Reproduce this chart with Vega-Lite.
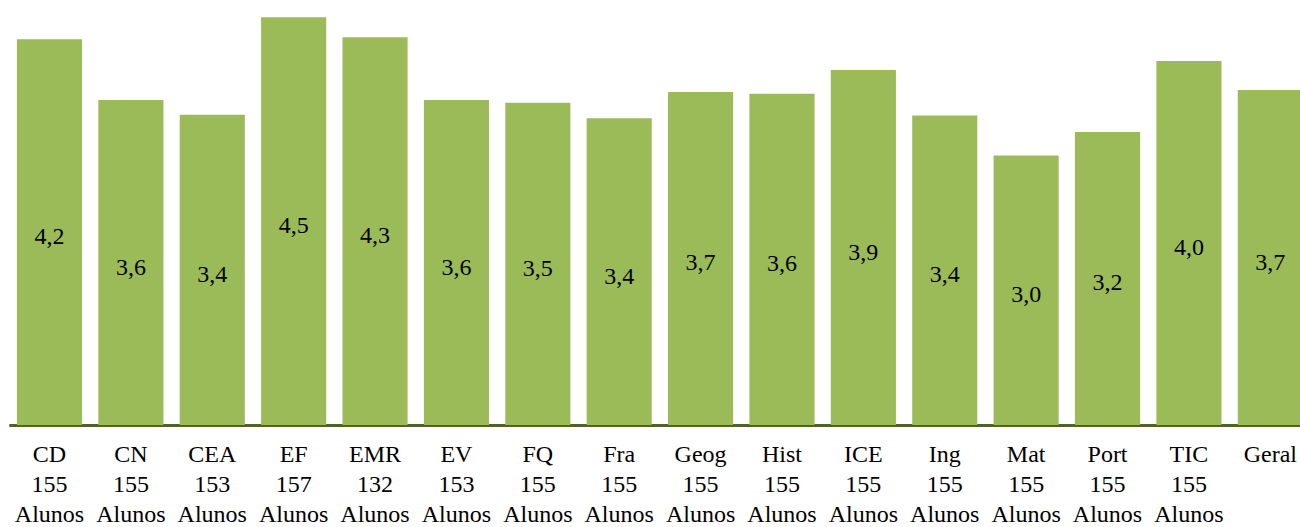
{
  "$schema": "https://vega.github.io/schema/vega-lite/v6.json",
  "width": 1300,
  "height": 425,
  "padding": {"left": 0, "right": 0, "top": 0, "bottom": 102},
  "autosize": {"type": "none"},
  "background": "white",
  "config": {
    "view": {"stroke": null},
    "locale": {"number": {"decimal": ",", "thousands": ".", "grouping": [3], "currency": ["", " €"]}}
  },
  "data": {
    "values": [
      {"disciplina": "CD", "alunos": 155, "media": 4.24},
      {"disciplina": "CN", "alunos": 155, "media": 3.57},
      {"disciplina": "CEA", "alunos": 153, "media": 3.41},
      {"disciplina": "EF", "alunos": 157, "media": 4.48},
      {"disciplina": "EMR", "alunos": 132, "media": 4.26},
      {"disciplina": "EV", "alunos": 153, "media": 3.57},
      {"disciplina": "FQ", "alunos": 155, "media": 3.54},
      {"disciplina": "Fra", "alunos": 155, "media": 3.37},
      {"disciplina": "Geog", "alunos": 155, "media": 3.66},
      {"disciplina": "Hist", "alunos": 155, "media": 3.64},
      {"disciplina": "ICE", "alunos": 155, "media": 3.9},
      {"disciplina": "Ing", "alunos": 155, "media": 3.4},
      {"disciplina": "Mat", "alunos": 155, "media": 2.96},
      {"disciplina": "Port", "alunos": 155, "media": 3.22},
      {"disciplina": "TIC", "alunos": 155, "media": 4.0},
      {"disciplina": "Geral", "alunos": null, "media": 3.68}
    ]
  },
  "transform": [
    {"calculate": "isValid(datum.alunos) ? datum.disciplina + '|' + datum.alunos + '|Alunos' : datum.disciplina", "as": "rotulo"}
  ],
  "encoding": {
    "x": {
      "field": "rotulo",
      "type": "nominal",
      "sort": null,
      "scale": {"range": [8.8, 1311], "paddingInner": 0.2, "paddingOuter": 0.1},
      "axis": {
        "title": null,
        "labelAngle": 0,
        "labelExpr": "split(datum.label, '|')",
        "labelFont": "Liberation Serif",
        "labelFontSize": 24,
        "labelColor": "#000000",
        "labelLineHeight": 30,
        "labelBaseline": "top",
        "labelPadding": 17,
        "labelOverlap": false,
        "labelLimit": 0,
        "ticks": false,
        "domainColor": "#4F6228",
        "domainWidth": 3,
        "grid": false
      }
    }
  },
  "layer": [
    {
      "mark": {"type": "bar", "color": "#9BBB59", "clip": true},
      "encoding": {
        "y": {"field": "media", "type": "quantitative", "scale": {"domain": [0, 4.67], "nice": false, "zero": true}, "axis": null}
      }
    },
    {
      "mark": {"type": "text", "font": "Liberation Serif", "fontSize": 24, "color": "#000000", "baseline": "middle", "align": "center", "dy": 5},
      "encoding": {
        "y": {"field": "media", "type": "quantitative", "scale": {"domain": [0, 9.34], "nice": false, "zero": true}, "axis": null},
        "text": {"field": "media", "type": "quantitative", "format": ".1f"}
      }
    }
  ],
  "resolve": {"scale": {"y": "independent"}}
}
